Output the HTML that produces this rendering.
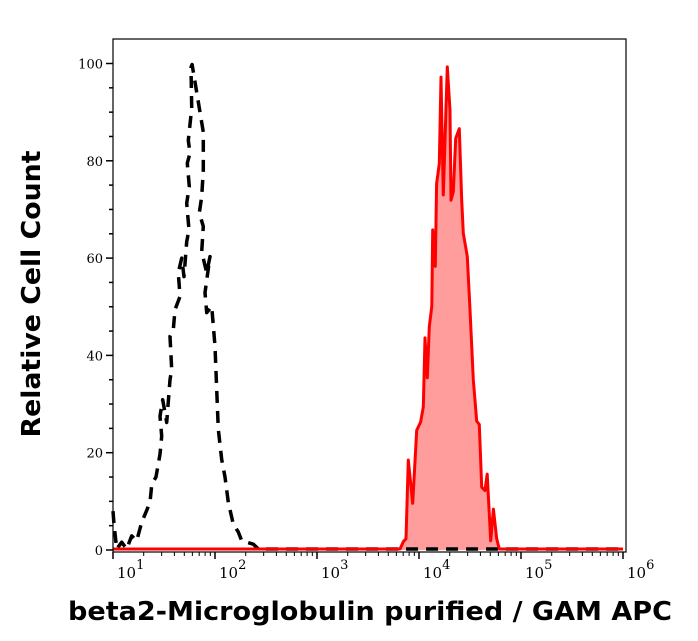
<!DOCTYPE html>
<html><head><meta charset="utf-8"><style>
html,body{margin:0;padding:0;background:#fff;}
svg{display:block;}
</style></head><body>
<svg id="chart" width="698" height="641" viewBox="0 0 698 641" xmlns="http://www.w3.org/2000/svg">
  <g id="marks"></g>
  <g id="axes"></g>
  <text transform="translate(40,294) rotate(-90)" text-anchor="middle" font-family="DejaVu Sans, Liberation Sans, sans-serif" font-weight="bold" font-size="26" textLength="287" lengthAdjust="spacingAndGlyphs">Relative Cell Count</text>
  <text x="370" y="620" text-anchor="middle" font-family="DejaVu Sans, Liberation Sans, sans-serif" font-weight="bold" font-size="26" textLength="604" lengthAdjust="spacingAndGlyphs">beta2-Microglobulin purified / GAM APC</text>
</svg>
<script>
// data: x in log10 units, y in relative count
const isoX = [1.0,1.010,1.036,1.085,1.134,1.183,1.232,1.281,1.324,1.363,1.380,1.422,1.461,1.477,1.461,1.487,1.526,1.559,1.575,1.559,1.591,1.608,1.657,1.640,1.674,1.696,1.723,1.745,1.723,1.748,1.728,1.755,1.738,1.772,1.765,1.775,1.885,1.885,1.870,1.846,1.885,1.870,1.919,1.951,1.902,1.919,1.968,2.000,2.017,2.032,2.066,2.098,2.130,2.179,2.228,2.262,2.375,2.425,3.0,4.0,5.0,6.0];
const isoY = [8,5.3,0.2,1.6,0.2,2.9,1.9,5.7,7.8,9.8,13.5,15.0,19.7,23.4,27.5,30.9,26.2,35.0,37.1,43.9,45.3,49.4,52.1,57.0,60.0,56.2,63.4,65.8,71.3,74.7,79.5,81.6,84.2,90.8,99.2,99.8,85.9,78.1,72.6,69.3,66.5,61.3,57.0,60.3,52.9,48.8,50.1,41.9,33.0,24.8,18.6,15.0,9.8,5.3,3.7,1.9,1.2,0.2,0.2,0.2,0.2,0.2];
const stX = [1.0,3.814,3.846,3.873,3.895,3.938,3.977,4.016,4.042,4.059,4.081,4.101,4.125,4.134,4.160,4.173,4.199,4.216,4.238,4.277,4.304,4.314,4.336,4.360,4.395,4.419,4.434,4.474,4.500,4.532,4.566,4.591,4.615,4.647,4.669,4.703,4.729,4.762,4.787,6.0];
const stY = [0.2,0.2,1.7,2.3,18.5,9.6,24.6,26.3,29.4,43.6,35.4,45.9,50.1,65.8,58.3,75.3,79.4,97.2,73.0,99.3,90.4,71.9,73.6,84.6,86.6,71.9,65.1,60.3,49.4,35.0,26.5,25.8,12.9,12.2,15.6,1.9,8.4,2.3,0.2,0.2];
const yTicks = [0,20,40,60,80,100];
const yTickLabels = ["0","20","40","60","80","100"];
const xDecades = [1,2,3,4,5,6];

const L=113,R=626,T=39,B=552;
const X0=113, DEC=102;
function sx(v){return X0+(v-1)*DEC;}
function sy(v){return 550-v*4.865;}
const NS="http://www.w3.org/2000/svg";
function mk(tag,attrs,parent){const e=document.createElementNS(NS,tag);for(const k in attrs)e.setAttribute(k,attrs[k]);if(parent)parent.appendChild(e);return e;}
const marks=document.getElementById('marks');
const axes=document.getElementById('axes');

let d="M"+sx(stX[0])+","+sy(0);
for(let i=0;i<stX.length;i++) d+=" L"+sx(stX[i]).toFixed(1)+","+sy(stY[i]).toFixed(1);
d+=" L"+sx(stX[stX.length-1])+","+sy(0)+" Z";
const area=mk('path',{d:d,fill:'#ff9c9c',stroke:'none'},marks);



let d2="";
for(let i=0;i<isoX.length;i++) d2+=(i?" L":"M")+sx(isoX[i]).toFixed(1)+","+sy(isoY[i]).toFixed(1);
const iso=mk('path',{d:d2,fill:'none',stroke:'#000','stroke-width':3.5,'stroke-dasharray':'12 8','stroke-linejoin':'round'},marks);



let d3="";
for(let i=0;i<stX.length;i++) d3+=(i?" L":"M")+sx(stX[i]).toFixed(1)+","+sy(stY[i]).toFixed(1);
const st=mk('path',{d:d3,fill:'none',stroke:'#ff0000','stroke-width':3,'stroke-linejoin':'round'},marks);



const fr=mk('rect',{x:L,y:T,width:R-L,height:B-T,fill:'none',stroke:'#000','stroke-width':1.2},axes);



for(let v=0;v<=100;v+=5){
  const major=v%20===0;
  const t=mk('line',{x1:L-(major?7:4),x2:L,y1:sy(v),y2:sy(v),stroke:'#000','stroke-width':1.5},axes);
  
  
}
yTicks.forEach((v,i)=>{
  const t=mk('text',{x:L-10,y:sy(v)+5,'text-anchor':'end','font-family':'DejaVu Serif, Liberation Serif, serif','font-size':13},axes);
  t.textContent=yTickLabels[i];
  
  
});
xDecades.forEach((p,i)=>{
  const x=sx(p);
  const t=mk('line',{x1:x,x2:x,y1:B,y2:B+7,stroke:'#000','stroke-width':1.5},axes);
  
  
  if(i<xDecades.length-1){
    for(let m=2;m<=9;m++){
      const xm=sx(p+Math.log10(m));
      const tm=mk('line',{x1:xm,x2:xm,y1:B,y2:B+4,stroke:'#000','stroke-width':1},axes);
      
      
    }
  }
  const lab=mk('text',{x:x+4,y:B+26,'font-family':'DejaVu Serif, Liberation Serif, serif','font-size':15},axes);
  
  
  const b=mk('tspan',{},lab); b.textContent="10";
  const s=mk('tspan',{dy:-9,'font-size':13},lab); s.textContent=String(p);
});
</script>
</body></html>
